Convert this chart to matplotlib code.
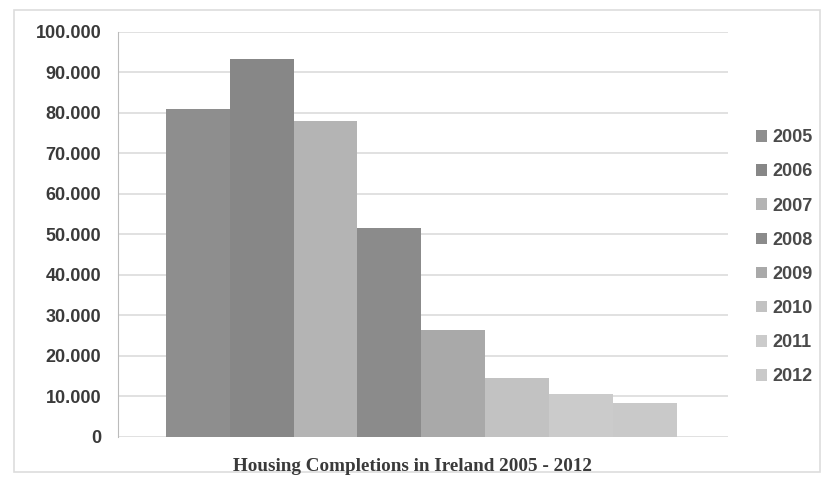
import matplotlib
matplotlib.use("Agg")
import matplotlib.pyplot as plt
from matplotlib.patches import Rectangle, Patch
from matplotlib.ticker import FuncFormatter

# housing completions per year
years = ["2005", "2006", "2007", "2008", "2009", "2010", "2011", "2012"]
completions = [80900, 93400, 78000, 51700, 26400, 14600, 10500, 8500]
colors = ["#8e8e8e", "#878787", "#b4b4b4", "#8b8b8b", "#a9a9a9", "#c2c2c2", "#cbcbcb", "#c9c9c9"]
yticks = [0, 10000, 20000, 30000, 40000, 50000, 60000, 70000, 80000, 90000, 100000]

fig = plt.figure(figsize=(8.22, 4.92), dpi=100)
ax = fig.add_axes([0.1436, 0.1118, 0.7424, 0.8232])

# outer chart border
fig.patches.append(Rectangle((0.017, 0.04), 0.98, 0.94, transform=fig.transFigure,
                             fill=False, edgecolor="#dddddd", linewidth=1.2))

x = list(range(len(years)))
bars = ax.bar(x, completions, width=1.0, color=colors, edgecolor="none", zorder=2)

ax.set_ylim(0, 100000)
ax.set_xlim(-1.25, 8.31)
ax.set_yticks(yticks)
ax.yaxis.set_major_formatter(FuncFormatter(lambda v, p: "0" if v == 0 else f"{int(v):,}".replace(",", ".")))
ax.set_xticks([])
ax.grid(axis="y", color="#dcdcdc", linewidth=1.2, zorder=0)

for s in ["top", "right", "bottom"]:
    ax.spines[s].set_visible(False)
ax.spines["left"].set_color("#bbbbbb")
ax.tick_params(axis="y", length=0, pad=12, labelsize=13, labelcolor="#3a3a3a")
for lbl in ax.get_yticklabels():
    lbl.set_fontweight("bold")
    lbl.set_family("Liberation Sans")

handles = [Patch(facecolor=c, edgecolor="none") for c in colors]
leg = fig.legend(handles, years, loc="center left", bbox_to_anchor=(0.900, 0.477),
                 frameon=False, handlelength=0.6, handleheight=0.6, handletextpad=0.3,
                 labelspacing=0.95, prop={"family": "Liberation Sans", "weight": "bold", "size": 13})
for t in leg.get_texts():
    t.set_color("#4a4a4a")

fig.text(0.502, 0.052, "Housing Completions in Ireland 2005 - 2012", ha="center", va="center",
         family="Liberation Serif", fontweight="bold", fontsize=13.8, color="#3a3a3a")

fig.savefig("out.png", dpi=100)
